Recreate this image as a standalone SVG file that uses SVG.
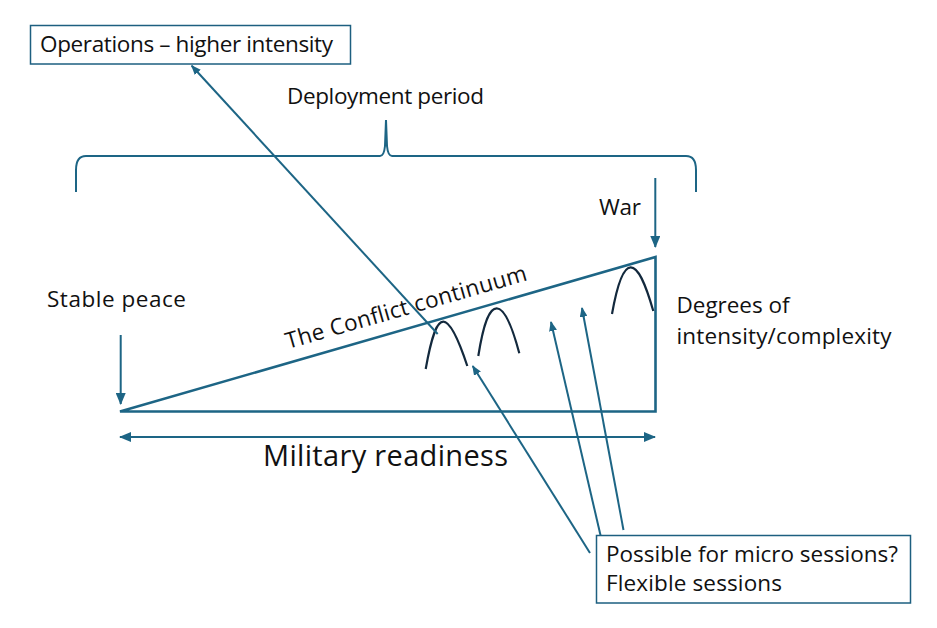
<svg xmlns="http://www.w3.org/2000/svg" width="937" height="628" viewBox="0 0 937 628">
<style>
  .t{font-family:"Open Sans","Liberation Sans",sans-serif;fill:#111;font-size:22.5px}
  .big{font-size:29px}
  .ln{stroke:#1d6585;fill:none;stroke-width:2}
  .tri{stroke:#1d6585;fill:none;stroke-width:2.6}
  .arch{stroke:#13293d;fill:none;stroke-width:2.2}
  .box{fill:#fff;stroke:#1d5f80;stroke-width:1.5}
</style>
<defs>
  <marker id="ah" markerUnits="userSpaceOnUse" markerWidth="12" markerHeight="10" refX="11" refY="5" orient="auto-start-reverse">
    <path d="M0,0 L12,5 L0,10 z" fill="#1d6585"/>
  </marker>
  <marker id="as" markerUnits="userSpaceOnUse" markerWidth="10" markerHeight="8" refX="9" refY="4" orient="auto">
    <path d="M0,0 L10,4 L0,8 z" fill="#1d6585"/>
  </marker>
</defs>
<rect width="937" height="628" fill="#fff"/>

<g id="triangle">
  <path class="tri" d="M120,411.5 L655.5,411.5 L655.5,257 Z"/>
</g>

<g id="brace">
  <path class="ln" d="M76,192 L76,170 Q76,156 86,156 L380,156 Q384,156 385,146 L386,120 L387,146 Q388,156 392,156 L686,156 Q696,156 696,170 L696,192"/>
</g>

<g id="arches">
  <path class="arch" d="M425.7,369 C432,334 437,321.7 443.3,321.7 C450,321.7 458,338 467.3,366"/>
  <path class="arch" d="M478.3,356 C484,320 490,308.3 496.7,308.3 C504,308.3 511,322 519.3,353.3"/>
  <path class="arch" d="M612,314 C618,280 624,267.3 630.7,267.3 C638,267.3 645,282 653.3,311"/>
</g>

<g id="connectors">
  <line class="ln" x1="437.7" y1="334" x2="191.7" y2="65.7" marker-end="url(#as)"/>
  <line class="ln" x1="120.7" y1="335" x2="120.7" y2="404" stroke-width="2.4" marker-end="url(#ah)"/>
  <line class="ln" x1="655.3" y1="178" x2="655.3" y2="247" stroke-width="2.4" marker-end="url(#ah)"/>
  <line class="ln" x1="120" y1="437" x2="655" y2="437" stroke-width="2.4" marker-start="url(#ah)" marker-end="url(#ah)"/>
  <line class="ln" x1="590" y1="553" x2="472.7" y2="366" marker-end="url(#as)"/>
  <line class="ln" x1="603" y1="546" x2="551" y2="322" marker-end="url(#as)"/>
  <line class="ln" x1="623.5" y1="530" x2="582" y2="308" marker-end="url(#as)"/>
</g>

<g id="ops">
  <rect class="box" x="30.5" y="25.5" width="320" height="38.5"/>
  <text class="t" x="40" y="52.3" textLength="293">Operations – higher intensity</text>
</g>

<g id="deployment">
  <text class="t" x="287" y="104" textLength="197">Deployment period</text>
</g>

<g id="war">
  <text class="t" x="599" y="215" textLength="42">War</text>
</g>

<g id="stable">
  <text class="t" x="47" y="307" textLength="139">Stable peace</text>
</g>

<g id="degrees">
  <text class="t" x="676.5" y="313.3" textLength="113">Degrees of</text>
  <text class="t" x="676.5" y="343.5" textLength="215">intensity/complexity</text>
</g>

<g id="continuum">
  <text class="t" transform="translate(288,349) rotate(-16)" textLength="250">The Conflict continuum</text>
</g>

<g id="readiness">
  <text class="t big" x="263" y="465.7" textLength="245">Military readiness</text>
</g>

<g id="micro">
  <rect class="box" x="596.5" y="535.5" width="314" height="67.5"/>
  <text class="t" x="606" y="561.7" textLength="292">Possible for micro sessions?</text>
  <text class="t" x="606" y="590.7" textLength="176">Flexible sessions</text>
</g>
</svg>
